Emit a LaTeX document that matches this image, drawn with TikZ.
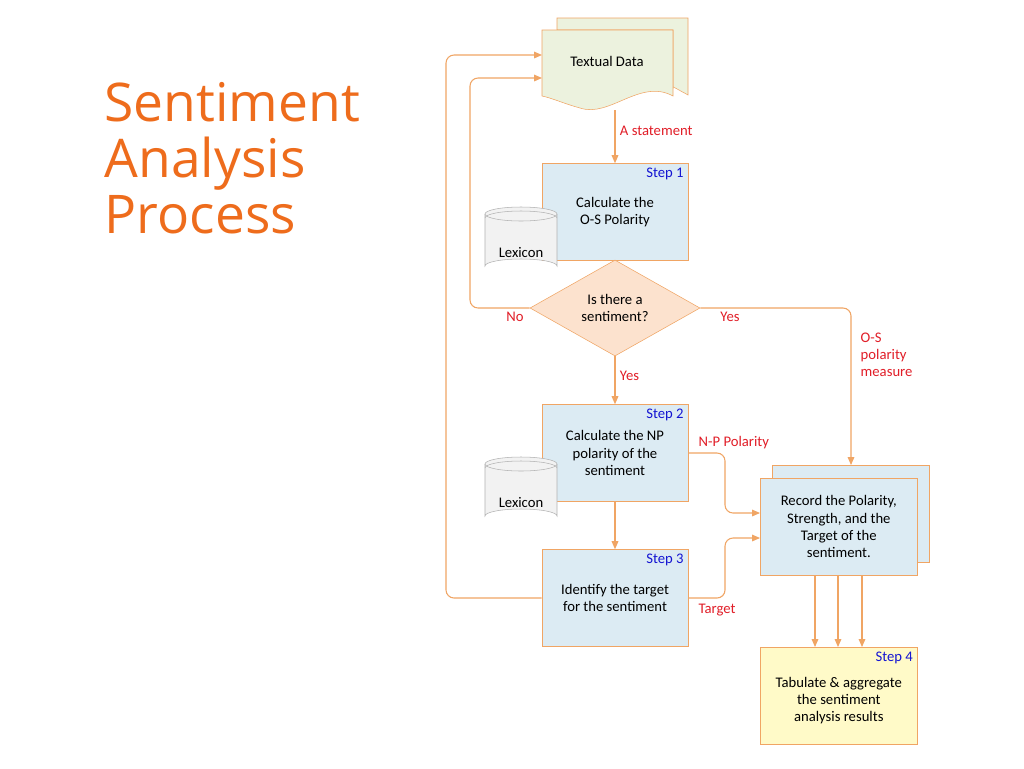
\documentclass[tikz,border=0pt]{standalone}
\usepackage{fontspec}
\setmainfont{Carlito}
\newfontfamily\titlefont{Open Sans}
\usetikzlibrary{arrows.meta,calc,shapes.geometric}
\definecolor{Flow}{RGB}{240,165,100}
\definecolor{BoxFill}{RGB}{220,235,243}
\definecolor{DocFill}{RGB}{236,242,222}
\definecolor{DiaFill}{RGB}{252,226,206}
\definecolor{TabFill}{RGB}{255,250,200}
\definecolor{Title}{RGB}{238,108,28}
\definecolor{Lbl}{RGB}{225,30,40}
\definecolor{StepCol}{RGB}{20,20,210}

\begin{document}
\begin{tikzpicture}[x=0.75pt,y=-0.75pt,
    stepbox/.style={draw=Flow, fill=BoxFill, minimum width=109.5pt, minimum height=72.75pt, align=center, font=\fontsize{11}{13}\selectfont},
    flow/.style={draw=Flow, thick, -{Triangle[length=6pt,width=5pt]}, rounded corners=6pt},
    lbl/.style={text=Lbl, font=\fontsize{11}{13}\selectfont},
    steplbl/.style={text=StepCol, font=\fontsize{11}{13}\selectfont, anchor=north east}]
    %% Background
    \useasboundingbox[fill=white] (0,0) rectangle (1024,768);

    %% Title
    \node[anchor=north west, text=Title, align=left, font=\titlefont\fontsize{40}{42}\selectfont] (title) at (100,78) {Sentiment\\Analysis\\Process};

    %% Textual data
    \draw[draw=Flow, fill=DocFill] (557,18) -- (688,18) -- (688,95) .. controls (670,85) .. (673,88) -- (673,30) -- (557,30) -- cycle;
    \draw[draw=Flow, fill=DocFill] (542,30) -- (673,30) -- (673,96)
        .. controls (640,78) and (610,118) .. (580,108)
        .. controls (565,104) and (552,98) .. (542,96) -- cycle;
    \node[font=\fontsize{11}{13}\selectfont] (data) at (607,61) {Textual Data};
    \coordinate (dataS) at (615,110);
    \coordinate (dataW1) at (542,55);
    \coordinate (dataW2) at (542,78);

    %% Steps
    \node[stepbox] (s1) at (615,212) {Calculate the\\O-S Polarity};
    \node[steplbl] at (s1.north east) {Step 1};
    \node[diamond, draw=Flow, fill=DiaFill, aspect=1.75, inner sep=0pt, minimum width=127.5pt, minimum height=72pt, align=center, font=\fontsize{11}{13}\selectfont] (ask) at (615,308) {Is there a\\sentiment?};
    \node[stepbox] (s2) at (615,453) {Calculate the NP\\polarity of the\\sentiment};
    \node[steplbl] at (s2.north east) {Step 2};
    \node[stepbox] (s3) at (615,598) {Identify the target\\for the sentiment};
    \node[steplbl] at (s3.north east) {Step 3};
    \node[stepbox, minimum width=117.75pt, anchor=north west] (recB) at (772,465) {};
    \node[stepbox, minimum width=117.75pt, anchor=north west] (rec) at (760,478) {Record the Polarity,\\Strength, and the\\Target of the\\sentiment.};
    \node[stepbox, fill=TabFill, minimum width=117.75pt, anchor=north west] (tab) at (760,647) {\\[2pt]Tabulate \& aggregate\\the sentiment\\analysis results};
    \node[steplbl] at (tab.north east) {Step 4};

    %% Lexicons
    \foreach \n/\y in {lexA/208,lexB/458}{
        \draw[draw=gray!60, fill=gray!10] (485,\y+6) -- (485,\y+58) arc[start angle=180, end angle=360, x radius=36, y radius=7] -- (557,\y+6);
        \draw[draw=gray!60, fill=gray!10] (521,\y+6) ellipse[x radius=36, y radius=7];
        \draw[draw=gray!60] (485,\y+10) arc[start angle=180, end angle=360, x radius=36, y radius=7];
        \node[font=\fontsize{11}{13}\selectfont] (\n) at (521,\y+44) {Lexicon};
    }

    %% Connectors
    \draw[flow] (dataS) -- node[lbl, right, pos=0.4] {A statement} (s1);
    \draw[flow] (ask.west) -| (470,78) -- (dataW2);
    \node[lbl] at (515,317) {No};
    \draw[flow] (s3.west) -| (446,55) -- (dataW1);
    \draw[flow] (ask.east) -| (851,465);
    \node[lbl] at (730,317) {Yes};
    \node[lbl, anchor=north west, align=left] at (856,328) {O-S\\polarity\\measure};
    \draw[flow] (ask.south) -- node[lbl, right, pos=0.4] {Yes} (s2);
    \draw[flow] (s2.east) -- (725,453) -- (725,513) -- (rec.west |- 0,513);
    \node[lbl, anchor=west] at (694,443) {N-P Polarity};
    \draw[flow] (s3.east) -- (725,598) -- (725,538) -- (rec.west |- 0,538);
    \node[lbl] at (717,610) {Target};
    \draw[flow] (s2) -- (s3);
    \foreach \x in {815,838,862}
        \draw[flow] (\x,575) -- (\x,647);
\end{tikzpicture}
\end{document}
